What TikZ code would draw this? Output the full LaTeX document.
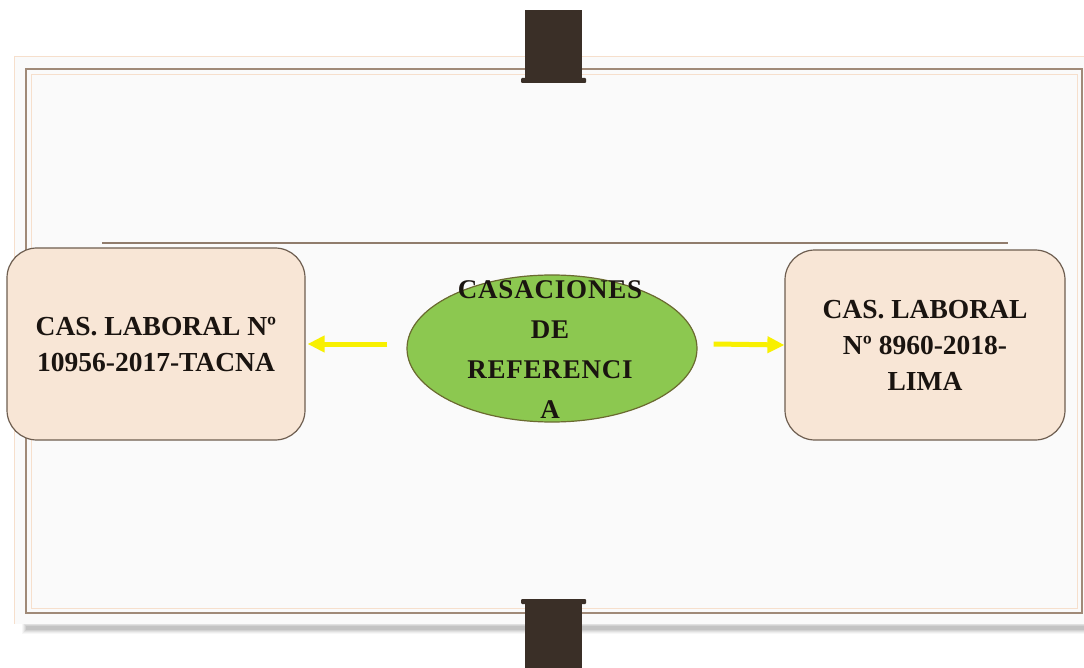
\documentclass[tikz,border=0pt]{standalone}
\usepackage{fontspec}
\setmainfont{Liberation Serif}
\usetikzlibrary{arrows.meta,shapes.geometric,calc}
\definecolor{paper}{HTML}{FAFAFA}
\definecolor{frame}{HTML}{A08A78}
\definecolor{peach}{HTML}{F8E6D6}
\definecolor{peachline}{HTML}{F6DFCC}
\definecolor{boxedge}{HTML}{6E5E50}
\definecolor{leaf}{HTML}{8CC850}
\definecolor{leafedge}{HTML}{6A6A30}
\definecolor{bar}{HTML}{3A2F27}
\definecolor{arrowyellow}{HTML}{F8F000}
\definecolor{ink}{HTML}{1A1410}
\tikzset{
  casebox/.style={draw=boxedge, line width=1.2pt, fill=peach, rounded corners=30pt,
    align=center, text=ink, font=\fontsize{27.5}{36}\selectfont\bfseries, inner sep=0pt},
  yarrow/.style={draw=arrowyellow, line width=5pt,
    -{Triangle[length=17pt,width=16pt]}},
}
\begin{document}
\begin{tikzpicture}[x=1pt,y=-1pt]
\useasboundingbox (0,0) rectangle (1084,668);
\fill[white] (0,0) rectangle (1084,668);
% shadow
\foreach \i/\o in {0/0.03,1/0.04,2/0.05,3/0.06,4/0.07} {
  \fill[black,opacity=\o] (22+\i,622+\i) rectangle (1084,634-\i);
}
% paper
\fill[paper] (14,56) rectangle (1084,624);
\draw[peachline, line width=0.8pt] (14,56) -- (1084,56);
\draw[peachline, line width=0.8pt] (14,56) -- (14,624);
\draw[peachline, line width=0.8pt] (31,74) rectangle (1077,608);
\draw[frame, line width=1.8pt] (26,69) rectangle (1082,613);
% horizontal rule
\draw[frame!90!black, line width=1.5pt] (102,243) -- (1008,243);
% bars
\fill[bar] (525,10) rectangle (582,80);
\fill[bar, rounded corners=1pt] (521,78) rectangle (586,83);
\fill[bar] (525,602) rectangle (582,668);
\fill[bar, rounded corners=1pt] (521,599) rectangle (586,604);
% boxes
\node[casebox, minimum width=298pt, minimum height=192pt] (lbox) at (156,344)
  {CAS. LABORAL Nº\\10956-2017-TACNA};
\node[casebox, minimum width=280pt, minimum height=190pt] (rbox) at (925,345)
  {CAS. LABORAL\\Nº 8960-2018-\\LIMA};
% ellipse
\node[ellipse, draw=leafedge, line width=1.2pt, fill=leaf, minimum width=290pt,
  minimum height=147pt, inner sep=0pt] (ell) at (552,348.5) {};
\node[align=center, text=ink, font=\fontsize{27}{40}\selectfont\bfseries\addfontfeature{LetterSpace=3}, inner sep=0pt]
  (ellt) at (550,350) {CASACIONES\\DE\\REFERENCI\\A};
% arrows
\draw[yarrow] ([xshift=-19pt,yshift=4.5pt]ell.west) -- ([xshift=2pt]lbox.east);
\draw[yarrow] ([xshift=16pt,yshift=4.5pt]ell.east) -- (rbox.west);
\end{tikzpicture}
\end{document}
